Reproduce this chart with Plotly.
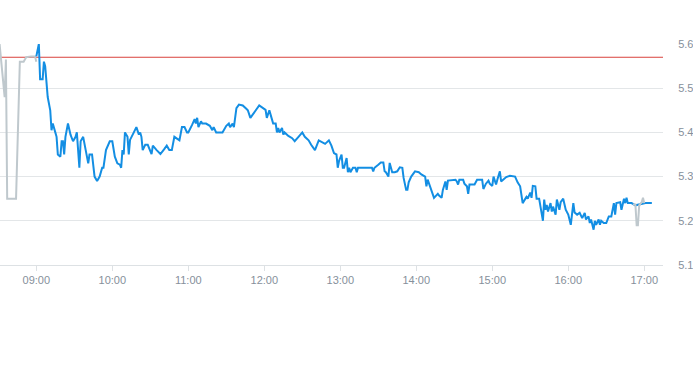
import plotly.graph_objects as go

DAY = "2024-01-02 "

blue_times = [
    "09:00", "09:02", "09:03", "09:05", "09:06", "09:07", "09:09", "09:11", "09:12", "09:13",
    "09:15", "09:16", "09:17", "09:19", "09:20", "09:21", "09:22", "09:23", "09:25", "09:27",
    "09:29", "09:31", "09:32", "09:34", "09:35", "09:37", "09:39", "09:41", "09:42", "09:44",
    "09:46", "09:48", "09:50", "09:52", "09:53", "09:55", "09:58", "10:00", "10:02", "10:04",
    "10:06", "10:07", "10:08", "10:09", "10:10", "10:12", "10:13", "10:14", "10:17", "10:19",
    "10:21", "10:22", "10:23", "10:24", "10:26", "10:28", "10:31", "10:32", "10:35", "10:38",
    "10:41", "10:43", "10:45", "10:47", "10:49", "10:51", "10:53", "10:55", "10:57", "10:59",
    "11:00", "11:03", "11:05", "11:06", "11:07", "11:08", "11:10", "11:11", "11:14", "11:17",
    "11:19", "11:20", "11:22", "11:24", "11:27", "11:30", "11:32", "11:33", "11:35", "11:36",
    "11:38", "11:40", "11:43", "11:46", "11:47", "11:49", "11:51", "11:54", "11:56", "11:59",
    "12:01", "12:02", "12:04", "12:06", "12:07", "12:09", "12:10", "12:11", "12:12", "12:14",
    "12:15", "12:16", "12:19", "12:22", "12:24", "12:27", "12:30", "12:32", "12:35", "12:37",
    "12:40", "12:43", "12:45", "12:48", "12:51", "12:53", "12:55", "12:57", "12:58", "12:59",
    "13:01", "13:02", "13:03", "13:05", "13:06", "13:07", "13:08", "13:10", "13:12", "13:13",
    "13:14", "13:17", "13:25", "13:26", "13:27", "13:30", "13:32", "13:34", "13:35", "13:36",
    "13:38", "13:39", "13:41", "13:43", "13:45", "13:47", "13:49", "13:50", "13:52", "13:53",
    "13:54", "13:56", "13:59", "14:02", "14:04", "14:07", "14:08", "14:09", "14:10", "14:12",
    "14:14", "14:17", "14:18", "14:20", "14:21", "14:23", "14:24", "14:25", "14:31", "14:32",
    "14:33", "14:34", "14:37", "14:38", "14:40", "14:41", "14:42", "14:46", "14:48", "14:52",
    "14:53", "14:55", "14:57", "14:58", "15:00", "15:01", "15:03", "15:04", "15:06", "15:07",
    "15:09", "15:11", "15:14", "15:18", "15:20", "15:22", "15:24", "15:26", "15:27", "15:28",
    "15:30", "15:31", "15:32", "15:34", "15:35", "15:37", "15:40", "15:41", "15:42", "15:43",
    "15:44", "15:46", "15:47", "15:48", "15:50", "15:51", "15:53", "15:54", "15:56", "15:58",
    "16:00", "16:02", "16:04", "16:05", "16:07", "16:09", "16:11", "16:13", "16:14", "16:16",
    "16:17", "16:18", "16:20", "16:21", "16:22", "16:24", "16:25", "16:26", "16:28", "16:30",
    "16:32", "16:34", "16:36", "16:37", "16:38", "16:41", "16:42", "16:44", "16:45", "16:46",
    "16:47", "16:50", "16:53", "17:01", "17:06",
]

blue_values = [
    5.572, 5.60, 5.52, 5.52, 5.56, 5.55, 5.48, 5.45, 5.405, 5.42,
    5.40, 5.39, 5.35, 5.345, 5.38, 5.38, 5.35, 5.39, 5.42, 5.395,
    5.38, 5.39, 5.40, 5.32, 5.38, 5.39, 5.36, 5.33, 5.35, 5.35,
    5.30, 5.29, 5.30, 5.32, 5.32, 5.36, 5.38, 5.38, 5.345, 5.33,
    5.327, 5.32, 5.36, 5.35, 5.40, 5.39, 5.35, 5.383, 5.40, 5.412,
    5.395, 5.40, 5.39, 5.36, 5.372, 5.372, 5.351, 5.37, 5.36, 5.351,
    5.362, 5.37, 5.36, 5.36, 5.39, 5.386, 5.382, 5.412, 5.412, 5.40,
    5.40, 5.417, 5.43, 5.42, 5.433, 5.412, 5.425, 5.42, 5.42, 5.415,
    5.405, 5.412, 5.40, 5.40, 5.40, 5.415, 5.42, 5.412, 5.42, 5.412,
    5.455, 5.463, 5.461, 5.453, 5.45, 5.433, 5.442, 5.453, 5.461, 5.455,
    5.451, 5.433, 5.45, 5.43, 5.42, 5.42, 5.40, 5.41, 5.40, 5.41,
    5.395, 5.40, 5.392, 5.387, 5.38, 5.39, 5.40, 5.39, 5.382, 5.372,
    5.36, 5.382, 5.378, 5.374, 5.382, 5.37, 5.353, 5.35, 5.32, 5.335,
    5.35, 5.32, 5.32, 5.342, 5.31, 5.32, 5.31, 5.32, 5.32, 5.31,
    5.32, 5.32, 5.32, 5.312, 5.32, 5.327, 5.332, 5.332, 5.312, 5.31,
    5.30, 5.331, 5.31, 5.31, 5.312, 5.321, 5.32, 5.297, 5.27, 5.27,
    5.287, 5.30, 5.312, 5.31, 5.305, 5.30, 5.278, 5.293, 5.284, 5.27,
    5.252, 5.261, 5.257, 5.252, 5.27, 5.289, 5.27, 5.291, 5.293, 5.289,
    5.282, 5.293, 5.293, 5.284, 5.278, 5.261, 5.282, 5.282, 5.293, 5.293,
    5.272, 5.284, 5.291, 5.284, 5.279, 5.30, 5.282, 5.293, 5.312, 5.289,
    5.295, 5.299, 5.302, 5.30, 5.287, 5.278, 5.24, 5.248, 5.254, 5.25,
    5.264, 5.252, 5.279, 5.278, 5.25, 5.25, 5.20, 5.248, 5.225, 5.236,
    5.221, 5.24, 5.221, 5.232, 5.214, 5.248, 5.225, 5.242, 5.25, 5.225,
    5.214, 5.191, 5.24, 5.219, 5.214, 5.218, 5.206, 5.218, 5.203, 5.21,
    5.195, 5.203, 5.18, 5.20, 5.191, 5.203, 5.191, 5.20, 5.195, 5.195,
    5.21, 5.21, 5.24, 5.214, 5.24, 5.242, 5.225, 5.25, 5.24, 5.252,
    5.24, 5.24, 5.235, 5.24, 5.24,
]

pre_times = ["08:31", "08:35", "08:36", "08:37", "08:44", "08:47", "08:50", "08:52", "08:56", "08:59", "09:00"]
pre_values = [5.60, 5.48, 5.565, 5.25, 5.25, 5.56, 5.56, 5.57, 5.572, 5.572, 5.56]

post_times = ["16:51", "16:53", "16:54", "16:55", "16:56", "16:58", "16:59", "17:00"]
post_values = [5.237, 5.237, 5.19, 5.19, 5.235, 5.242, 5.252, 5.24]

prev_close = 5.57
y_ticks = [5.1, 5.2, 5.3, 5.4, 5.5, 5.6]
x_tick_labels = ["09:00", "10:00", "11:00", "12:00", "13:00", "14:00", "15:00", "16:00", "17:00"]

BLUE = "#138ee3"
GRAY = "#bfc8cd"
TICK_COLOR = "#86909b"
FONT = "Liberation Sans"

fig = go.Figure()
fig.add_trace(go.Scatter(x=[DAY + t for t in pre_times], y=pre_values, mode="lines",
                         line=dict(color=GRAY, width=2), hoverinfo="skip"))
fig.add_trace(go.Scatter(x=[DAY + t for t in blue_times], y=blue_values, mode="lines",
                         line=dict(color=BLUE, width=2)))
fig.add_trace(go.Scatter(x=[DAY + t for t in post_times], y=post_values, mode="lines",
                         line=dict(color=GRAY, width=2), hoverinfo="skip"))

fig.add_shape(type="line", xref="paper", x0=0, x1=1, yref="y", y0=prev_close, y1=prev_close,
              line=dict(color="#d9413c", width=1), layer="below")

fig.update_layout(
    width=693, height=365,
    margin=dict(l=0, r=30, t=44, b=100),
    paper_bgcolor="white", plot_bgcolor="white",
    showlegend=False,
    font=dict(family=FONT, size=11, color=TICK_COLOR),
    xaxis=dict(
        type="date",
        range=[DAY + "08:31:20", DAY + "17:14:48"],
        tickvals=[DAY + t for t in x_tick_labels],
        ticktext=x_tick_labels,
        showgrid=False, zeroline=False,
        showline=True, linecolor="#dde1e4", linewidth=1,
        ticks="outside", ticklen=5, tickcolor="#dde1e4",
        tickfont=dict(family=FONT, size=11, color=TICK_COLOR),
    ),
    yaxis=dict(
        side="right",
        range=[5.1, 5.6],
        tickvals=y_ticks,
        ticktext=[f"{v:.1f}" for v in y_ticks],
        showgrid=True, gridcolor="#e3e6e8", gridwidth=1,
        zeroline=False, showline=False,
        ticks="outside", ticklen=12, tickcolor="rgba(0,0,0,0)",
        tickfont=dict(family=FONT, size=11, color=TICK_COLOR),
    ),
)

fig.write_html("out.html", config={"displayModeBar": False},
               post_script="document.body.style.margin='0';")
